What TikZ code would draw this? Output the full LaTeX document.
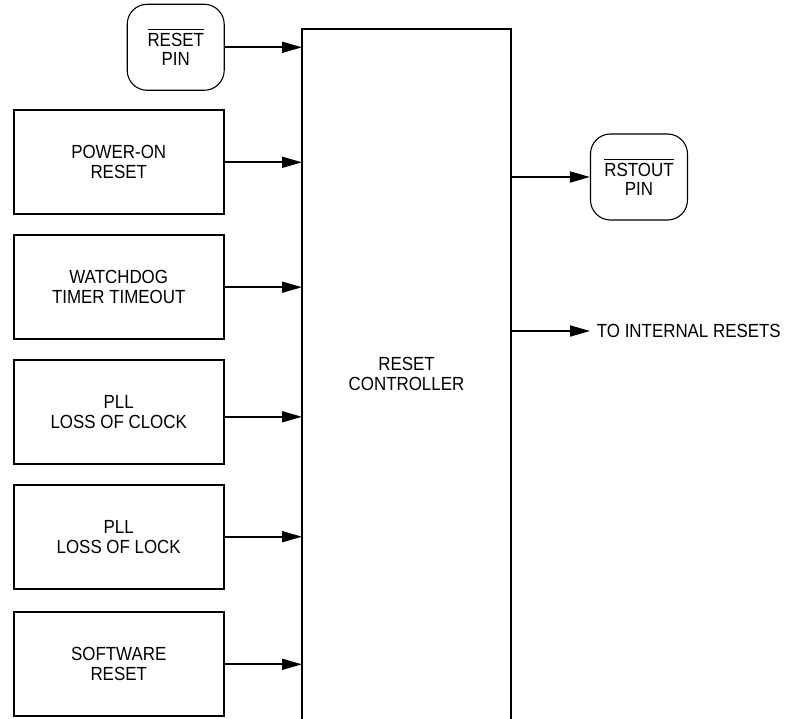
\documentclass[tikz,border=0pt]{standalone}
\usepackage{fontspec}
\setmainfont{Liberation Sans}[FakeStretch=0.89]
\usetikzlibrary{arrows.meta}
\newcommand\barword[1]{\vbox{\hrule height 1.3pt\kern 3.2pt\hbox{#1}}}
\begin{document}
\begin{tikzpicture}[x=1pt,y=-1pt,
  font=\fontsize{19}{20}\selectfont,
  srcbox/.style={draw, line width=2pt, minimum width=210pt, minimum height=104pt, align=center, inner sep=0pt},
  pinbox/.style={draw, line width=1.1pt, rounded corners=20pt, minimum width=97pt, minimum height=86pt, align=center, inner sep=0pt},
  arr/.style={line width=1.8pt, -{Triangle[length=20pt,width=11pt]}},
  outline/.style={line width=2pt}]
\useasboundingbox (0,0) rectangle (789,719);
\clip (0,0) rectangle (789,719);
% controller
\node[minimum width=209pt, minimum height=720pt, anchor=north west, inner sep=0pt, outer sep=0pt] (ctrl) at (302,29.3) {};
\draw[outline] (ctrl.south west) -- (ctrl.north west) -- (ctrl.north east) -- (ctrl.south east);
\node[align=center] (ctrltxt) at (406.5,373.5) {RESET\\CONTROLLER};
% sources
\node[pinbox] (rpin) at (175.7,47.3) {\barword{RESET}\\[-1pt]PIN};
\node[srcbox] (pwr) at (118.7,162.3) {POWER-ON\\RESET};
\node[srcbox] (wdt) at (118.7,287.2) {WATCHDOG\\TIMER TIMEOUT};
\node[srcbox] (clk) at (118.7,412.3) {PLL\\LOSS OF CLOCK};
\node[srcbox] (lck) at (118.7,536.7) {PLL\\LOSS OF LOCK};
\node[srcbox] (sw) at (118.7,664.3) {SOFTWARE\\RESET};
% outputs
\node[pinbox] (opin) at (639,177) {\barword{RSTOUT}\\[-1pt]PIN};
\node[anchor=west, inner sep=0pt] (intr) at (596.7,331) {TO INTERNAL RESETS};
\coordinate (intip) at (590,331);
% connectors
\draw[arr] (rpin.east) -- (rpin.east -| ctrl.west);
\draw[arr] (pwr.east) -- (pwr.east -| ctrl.west);
\draw[arr] (wdt.east) -- (wdt.east -| ctrl.west);
\draw[arr] ([yshift=-4.5pt]clk.east) -- ([yshift=-4.5pt]clk.east -| ctrl.west);
\draw[arr] (lck.east) -- (lck.east -| ctrl.west);
\draw[arr] (sw.east) -- (sw.east -| ctrl.west);
\draw[arr] (opin.west -| ctrl.east) -- (opin.west);
\draw[arr] (intip -| ctrl.east) -- (intip);
\end{tikzpicture}
\end{document}
